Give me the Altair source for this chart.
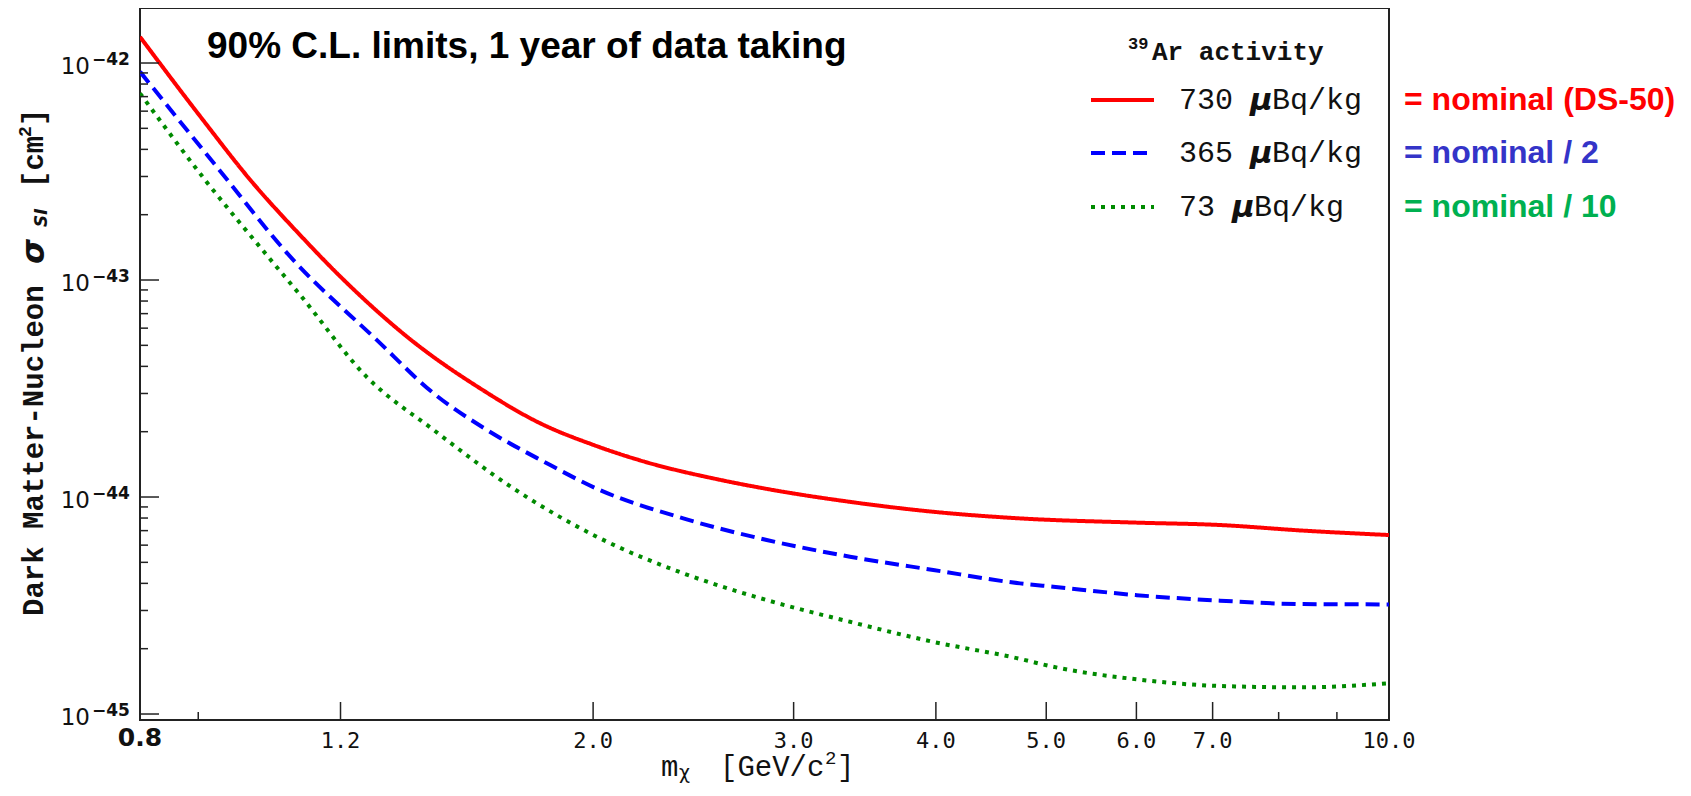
import altair as alt
import pandas as pd

# ---------------- data ----------------
mass_red = [0.8, 0.909, 1.0, 1.106, 1.2, 1.39, 1.591, 1.796, 2.0, 2.214,
            2.585, 2.841, 3.362, 3.979, 4.742, 6.003, 7.105, 8.409, 10.0]
sigma_red = [1.32e-42, 5.45e-43, 2.89e-43, 1.61e-43, 1.035e-43, 5.20e-44,
             3.17e-44, 2.19e-44, 1.74e-44, 1.46e-44, 1.20e-44, 1.09e-44, 9.50e-45,
             8.55e-45, 7.97e-45, 7.62e-45, 7.43e-45, 7.00e-45, 6.68e-45]

mass_blue = [0.8, 0.934, 1.091, 1.291, 1.448, 1.613, 1.808, 2.028, 2.4, 2.841, 3.362,
             3.979, 4.742, 5.072, 6.003, 7.105, 8.409, 10.0]
sigma_blue = [9.12e-43, 3.33e-43, 1.235e-43, 5.30e-44, 3.01e-44, 2.04e-44, 1.46e-44,
              1.076e-44, 7.97e-45, 6.34e-45, 5.31e-45, 4.61e-45, 4.00e-45, 3.86e-45,
              3.53e-45, 3.33e-45, 3.21e-45, 3.20e-45]

mass_green = [0.8, 0.915, 1.034, 1.106, 1.265, 1.448, 1.702, 2.028, 2.4, 2.841, 3.362,
              3.979, 4.71, 5.072, 6.003, 7.105, 8.409, 10.0]
sigma_green = [7.25e-43, 2.84e-43, 1.30e-43, 8.53e-44, 3.58e-44, 2.04e-44, 1.096e-44,
               6.45e-45, 4.45e-45, 3.35e-45, 2.66e-45, 2.15e-45, 1.81e-45, 1.65e-45,
               1.445e-45, 1.346e-45, 1.327e-45, 1.386e-45]

series_names = ["730 \u03bcBq/kg", "365 \u03bcBq/kg", "73 \u03bcBq/kg"]
series_notes = ["= nominal (DS-50)", "= nominal / 2", "= nominal / 10"]
line_colors = ["#ff0000", "#0000ff", "#008a00"]
note_colors = ["#ff0000", "#3434c8", "#00b050"]
line_dashes = [[1, 0], [14, 7], [4, 6]]

x_major_ticks = [1.2, 2.0, 3.0, 4.0, 5.0, 6.0, 7.0]
x_minor_ticks = [0.9, 8.0, 9.0]
x_label_values = [1.2, 2.0, 3.0, 4.0, 5.0, 6.0, 7.0, 10.0]
x_label_texts = ["1.2", "2.0", "3.0", "4.0", "5.0", "6.0", "7.0", "10.0"]
y_decades = [-42, -43, -44, -45]
y_exp_texts = ["\u221242", "\u221243", "\u221244", "\u221245"]
y_minor_mantissas = [2, 3, 4, 5, 6, 7, 8, 9]
y_minor_decades = [-45, -44, -43]

# ---------------- layout ----------------
W, H = 1249, 712
xs = alt.Scale(type="log", domain=[0.8, 10.0], nice=False)
ys = alt.Scale(type="log", domain=[10 ** -45.0276, 10 ** -41.7465], nice=False)
MONO = "Liberation Mono"
SANS = "Liberation Sans"
one = alt.Data(values=[{}])

layers = []

# curves
for mass, sigma, name, col, dash in zip(
        [mass_red, mass_blue, mass_green], [sigma_red, sigma_blue, sigma_green],
        series_names, line_colors, line_dashes):
    df = pd.DataFrame({"mass": mass, "sigma": sigma, "series": name})
    layers.append(
        alt.Chart(df).mark_line(color=col, strokeWidth=4, strokeDash=dash,
                                strokeCap="butt", clip=True, interpolate="monotone")
        .encode(x=alt.X("mass:Q", scale=xs, axis=None),
                y=alt.Y("sigma:Q", scale=ys, axis=None),
                order="mass:Q")
    )

# x ticks (inward)
layers.append(alt.Chart(pd.DataFrame({"v": x_major_ticks})).mark_rule(color="#222", strokeWidth=1.5)
              .encode(x=alt.X("v:Q", scale=xs, axis=None), y=alt.value(H), y2=alt.value(H - 18)))
layers.append(alt.Chart(pd.DataFrame({"v": x_minor_ticks})).mark_rule(color="#222", strokeWidth=1.5)
              .encode(x=alt.X("v:Q", scale=xs, axis=None), y=alt.value(H), y2=alt.value(H - 8)))

# y ticks (inward)
y_major_vals = [10.0 ** e for e in y_decades]
y_minor_vals = [m * 10.0 ** e for e in y_minor_decades for m in y_minor_mantissas]
layers.append(alt.Chart(pd.DataFrame({"v": y_major_vals})).mark_rule(color="#222", strokeWidth=1.5)
              .encode(y=alt.Y("v:Q", scale=ys, axis=None), x=alt.value(0), x2=alt.value(19)))
layers.append(alt.Chart(pd.DataFrame({"v": y_minor_vals})).mark_rule(color="#222", strokeWidth=1.5)
              .encode(y=alt.Y("v:Q", scale=ys, axis=None), x=alt.value(0), x2=alt.value(8)))

# x tick labels
layers.append(alt.Chart(pd.DataFrame({"v": x_label_values, "t": x_label_texts}))
              .mark_text(font="DejaVu Sans Mono", fontSize=22, align="center", baseline="alphabetic", color="#111")
              .encode(x=alt.X("v:Q", scale=xs, axis=None), y=alt.value(740), text="t:N"))
layers.append(alt.Chart(pd.DataFrame({"v": [0.8], "t": ["0.8"]}))
              .mark_text(font="DejaVu Sans", fontWeight="bold", fontSize=25, align="center",
                         baseline="alphabetic", color="#111")
              .encode(x=alt.X("v:Q", scale=xs, axis=None), y=alt.value(738), text="t:N"))

# y tick labels 10^n
ylab = pd.DataFrame({"v": y_major_vals, "e": y_exp_texts})
layers.append(alt.Chart(ylab).mark_text(font="DejaVu Sans", fontSize=23, align="right",
                                         baseline="alphabetic", dy=11, text="10", color="#111")
              .encode(y=alt.Y("v:Q", scale=ys, axis=None), x=alt.value(-50)))
layers.append(alt.Chart(ylab).mark_text(font="DejaVu Sans", fontWeight="bold", fontSize=17, align="left",
                                         baseline="alphabetic", dy=2, color="#111")
              .encode(y=alt.Y("v:Q", scale=ys, axis=None), x=alt.value(-48), text="e:N"))


def txt(s, x, y, **kw):
    return alt.Chart(one).mark_text(text=s, **kw).encode(x=alt.value(x), y=alt.value(y))


# x axis title  m_chi [GeV/c^2]
xkw = dict(align="left", baseline="alphabetic", color="#111")
layers.append(txt("m", 521, 768, font=MONO, fontSize=29, **xkw))
layers.append(txt("\u03c7", 539, 771, font="DejaVu Sans", fontSize=19, **xkw))
layers.append(txt("[GeV/c", 580, 768, font=MONO, fontSize=29, **xkw))
layers.append(txt("2", 685, 756, font=MONO, fontSize=19, **xkw))
layers.append(txt("]", 697, 768, font=MONO, fontSize=29, **xkw))

# y axis title  Dark Matter-Nucleon sigma_SI [cm^2]
ykw = dict(angle=270, align="left", baseline="middle", color="#111")
layers.append(txt("Dark Matter-Nucleon", -106, 608, font=MONO, fontWeight="bold", fontSize=29, **ykw))
layers.append(txt("\u03c3", -106, 256, font="DejaVu Sans", fontWeight="bold", fontStyle="italic", fontSize=32, **ykw))
layers.append(txt("SI", -98, 219, font="DejaVu Sans", fontWeight="bold", fontStyle="italic", fontSize=17, **ykw))
layers.append(txt("[cm", -106, 180, font=MONO, fontWeight="bold", fontSize=29, **ykw))
layers.append(txt("2", -114, 129, font=MONO, fontWeight="bold", fontSize=18, **ykw))
layers.append(txt("]", -106, 118, font=MONO, fontWeight="bold", fontSize=29, **ykw))

# headline
layers.append(txt("90% C.L. limits, 1 year of data taking", 67, 50, font=SANS, fontWeight="bold",
                  fontSize=37, align="left", baseline="alphabetic", color="black"))

# legend
layers.append(txt("39", 988, 41, font=MONO, fontWeight="bold", fontSize=17, align="left",
                  baseline="alphabetic", color="#111"))
layers.append(txt("Ar activity", 1012, 52, font=MONO, fontWeight="bold", fontSize=26, align="left",
                  baseline="alphabetic", color="#111"))
row_y = [92, 145, 199]
CH = 18  # monospace advance at 30px
for i in range(3):
    layers.append(alt.Chart(one).mark_rule(color=line_colors[i], strokeWidth=4, strokeDash=line_dashes[i],
                                           strokeCap="butt")
                  .encode(x=alt.value(951), x2=alt.value(1014), y=alt.value(row_y[i])))
    num, unit = series_names[i].split("\u03bc")
    mu_x = 1039 + len(num) * CH
    layers.append(txt(num.strip(), 1039, row_y[i], font=MONO, fontSize=30, align="left",
                      baseline="middle", color="#111"))
    layers.append(txt("\u03bc", mu_x - 1, row_y[i] + 1, font="DejaVu Sans", fontWeight="bold",
                      fontStyle="italic", fontSize=31, align="left", baseline="middle", color="#111"))
    layers.append(txt(unit, mu_x + 21, row_y[i], font=MONO, fontSize=30, align="left",
                      baseline="middle", color="#111"))
    layers.append(txt(series_notes[i], 1264, row_y[i], font=SANS, fontWeight="bold", fontSize=32,
                      align="left", baseline="middle", color=note_colors[i]))

chart = (
    alt.layer(*layers)
    .properties(width=W, height=H,
                padding={"left": 132, "top": 0, "right": 294, "bottom": 68},
                autosize=alt.AutoSizeParams(type="none"))
    .configure_view(stroke="#222", strokeWidth=2)
)

chart.save("out.html", embed_options={"renderer": "svg", "actions": False})
